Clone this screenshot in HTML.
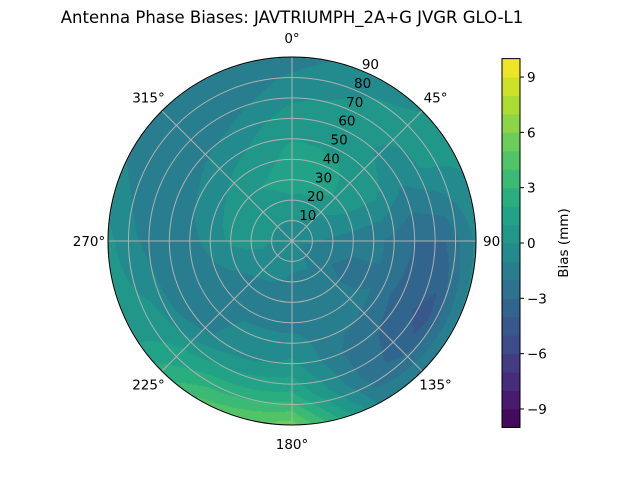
<!DOCTYPE html>
<html><head><meta charset="utf-8"><style>
body{margin:0;background:#fff;}
#wrap{position:relative;width:640px;height:480px;font-family:"DejaVu Sans","Liberation Sans",sans-serif;}
canvas{position:absolute;left:0;top:0;}
svg{position:absolute;left:0;top:0;}
</style></head><body>
<div id="wrap">
<canvas id="cv" width="640" height="480"></canvas>
<svg id="sv" width="640" height="480"></svg>
</div>
<script>
// Data: bias (mm) grid, rows = azimuth (deg, clockwise from N), columns = zenith (deg)
const azimuths = [0,30,60,90,120,150,180,210,240,270,300,330];
const zeniths = [0,15,30,45,60,75,90];
const az0   = [-0.8, 0.5, 1.5, 1.2, 0.5,-0.5,-1.5];
const az30  = [-0.8, 0.2, 1.5, 1, 0.5, 0.2,-0.3];
const az60  = [-0.8,-0.5, 0.2, 0.3,-0.8, 0.2, 0.3];
const az90  = [-0.8,-1,-1.5,-2,-3,-3,-0.8];
const az120 = [-0.8,-1.5,-2.5,-2,-3.5,-4.5,-0.8];
const az150 = [-0.8,-1,-1,-1.5,-2.5,-2.5,-1.5];
const az180 = [-0.8,-1,-1.5,-1,0.2,2.2,5.5];
const az210 = [-0.8,-0.5,-1.5,-1,-0.5,1.8,4.2];
const az240 = [-0.8,-0.5,-1,-1.8,-2,0.3,0.6];
const az270 = [-0.8,0.5,0.2,-1,-1.8,-1,0.3];
const az300 = [-0.8,0.5,0.5,-0.5,-1.5,-1.8,-1.2];
const az330 = [-0.8,0.5,1,0.2,-0.8,-2,-2];
const biasGrid = [az0,az30,az60,az90,az120,az150,az180,az210,az240,az270,az300,az330];
const levels = [-10,-9,-8,-7,-6,-5,-4,-3,-2,-1,0,1,2,3,4,5,6,7,8,9,10];
const cbarTicks = [-9,-6,-3,0,3,6,9];
const ringTicks = [10,20,30,40,50,60,70,80,90];
const angleTicks = [0,45,90,135,180,225,270,315];

const CX=292, CY=241, R=184, ZMAX=90;
const rScale = z => z/ZMAX*R;
const stops=["#440154","#482475","#414487","#355f8d","#2a788e","#21918c","#22a884","#44bf70","#7ad151","#bddf26","#fde725"];
function hex(h){return [1,3,5].map(i=>parseInt(h.substr(i,2),16));}
function viridis(t){t=Math.max(0,Math.min(1,t));const p=t*10,i=Math.min(9,Math.floor(p)),f=p-i;const a=hex(stops[i]),b=hex(stops[i+1]);return a.map((v,k)=>Math.round(v+(b[k]-v)*f));}
const nb=levels.length-1;
const bandColors=[];for(let i=0;i<nb;i++)bandColors.push(viridis((i+0.5)/nb));
function bandOf(v){for(let i=0;i<nb;i++){if(v<levels[i+1])return i;}return nb-1;}
function value(az,z){
  const n=azimuths.length, step=360/n;
  const ap=((az%360)+360)%360/step; const i0=Math.floor(ap)%n, i1=(i0+1)%n, fa=ap-Math.floor(ap);
  const zs=zeniths[1]-zeniths[0]; let zp=Math.min(z,ZMAX-1e-6)/zs; const j0=Math.floor(zp), j1=Math.min(j0+1,zeniths.length-1), fz=zp-j0;
  const g=biasGrid;
  const a=g[i0][j0]*(1-fz)+g[i0][j1]*fz, b=g[i1][j0]*(1-fz)+g[i1][j1]*fz;
  return a*(1-fa)+b*fa;
}
const ctx=document.getElementById('cv').getContext('2d');
const img=ctx.createImageData(640,480);
for(let y=0;y<480;y++)for(let x=0;x<640;x++){
  const dx=x+0.5-CX, dy=y+0.5-CY, d=Math.hypot(dx,dy);
  if(d>R)continue;
  const z=d/R*ZMAX; const az=Math.atan2(dx,-dy)*180/Math.PI;
  const c=bandColors[bandOf(value(az,z))]; const k=(y*640+x)*4;
  img.data[k]=c[0];img.data[k+1]=c[1];img.data[k+2]=c[2];img.data[k+3]=255;
}
ctx.putImageData(img,0,0);
const NS="http://www.w3.org/2000/svg", sv=document.getElementById('sv');
function el(t,a,p){const e=document.createElementNS(NS,t);for(const k in a)e.setAttribute(k,a[k]);(p||sv).appendChild(e);return e;}
const grid=el('g',{stroke:'#b0b0b0','stroke-width':'1',fill:'none'});


ringTicks.forEach(r=>{const c=el('circle',{cx:CX,cy:CY,r:rScale(r)},grid);

});
angleTicks.forEach(a=>{const t=a*Math.PI/180;const l=el('line',{x1:CX,y1:CY,x2:CX+R*Math.sin(t),y2:CY-R*Math.cos(t)},grid);

});
const border=el('circle',{cx:CX,cy:CY,r:R,fill:'none',stroke:'#000','stroke-width':'1'});


ringTicks.forEach(r=>{const t=22.5*Math.PI/180, rr=rScale(r);
const tx=el('text',{x:CX+rr*Math.sin(t)+8,y:CY-rr*Math.cos(t)-2,'font-size':'13.5','text-anchor':'middle'});tx.textContent=r;

});
angleTicks.forEach(a=>{const t=a*Math.PI/180, rr=R+19;
const tx=el('text',{x:CX+rr*Math.sin(t),y:CY-rr*Math.cos(t)+5,'font-size':'13.5','text-anchor':'middle'});tx.textContent=a+'°';

});
const title=el('text',{x:292,y:23,'font-size':'16.5','text-anchor':'middle'});title.textContent='Antenna Phase Biases: JAVTRIUMPH_2A+G JVGR GLO-L1';


const CB={x:502,w:18,top:58.6,bot:427.4};
const vy=v=>CB.bot-(v-levels[0])/(levels[nb]-levels[0])*(CB.bot-CB.top);
const cbg=el('g',{});


for(let i=0;i<nb;i++){const c=bandColors[i];
const r=el('rect',{x:CB.x,y:vy(levels[i+1]),width:CB.w,height:vy(levels[i])-vy(levels[i+1])+0.5,fill:`rgb(${c[0]},${c[1]},${c[2]})`},cbg);

}
el('rect',{x:CB.x,y:CB.top,width:CB.w,height:CB.bot-CB.top,fill:'none',stroke:'#000','stroke-width':'1'},cbg);
cbarTicks.forEach(v=>{const y=vy(v);el('line',{x1:CB.x+CB.w,x2:CB.x+CB.w+4,y1:y,y2:y,stroke:'#000'},cbg);
const tx=el('text',{x:CB.x+CB.w+7,y:y+5,'font-size':'13.5'},cbg);tx.textContent=v<0?'\u2212'+(-v):String(v);

});
const lab=el('text',{x:568,y:243,'font-size':'13.5','text-anchor':'middle',transform:'rotate(-90 568 243)'});lab.textContent='Bias (mm)';


</script>
</body></html>
